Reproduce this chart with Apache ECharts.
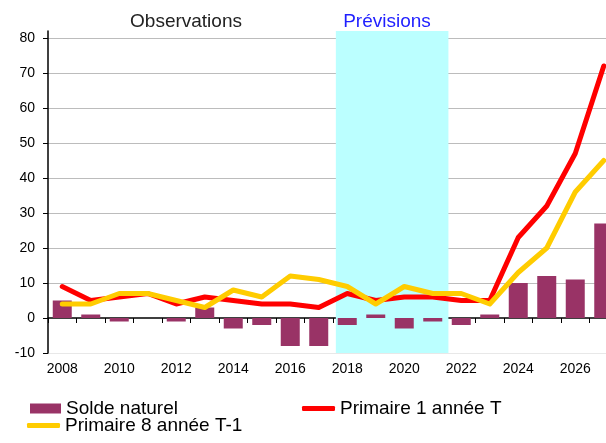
<!DOCTYPE html>
<html>
<head>
<meta charset="utf-8">
<title>Solde naturel et effectifs du primaire</title>
<script src="https://cdn.jsdelivr.net/npm/echarts@6/dist/echarts.min.js"></script>
<style>
  html, body { margin: 0; padding: 0; background: #fff; }
  #chart { width: 606px; height: 443px; }
</style>
</head>
<body>
<div id="chart"></div>
<script>
// années
var years = ['2008', '2009', '2010', '2011', '2012', '2013', '2014', '2015', '2016', '2017',
  '2018', '2019', '2020', '2021', '2022', '2023', '2024', '2025', '2026', '2027']
// séries
var soldeNaturel = [5, 1, -1, 0, -1, 3, -3, -2, -8, -8, -2, 1, -3, -1, -2, 1, 10, 12, 11, 27]
var primaire1 = [9, 5, 6, 7, 4, 6, 5, 4, 4, 3, 7, 5, 6, 6, 5, 5, 23, 32, 47, 72]
var primaire8 = [4, 4, 7, 7, 5, 3, 8, 6, 12, 11, 9, 4, 9, 7, 7, 4, 13, 20, 36, 45]
// axe des ordonnées
var yMin = -10
var yMax = 82
var yStep = 10
// zone des prévisions (en rang de catégorie)
var forecastFrom = 10.1
var forecastTo = 14.05

var font = '"Liberation Sans", Arial, sans-serif'

var chart = echarts.init(document.getElementById('chart'))

// couleurs des lignes de grille : -10 très clair, 0 masqué par l'axe, max masqué
var splitColors = ['#e8e8e8', 'rgba(0,0,0,0)']
for (var v = yMin + 2 * yStep; v < yMax; v += yStep) splitColors.push('#bcbcbc')
splitColors.push('rgba(0,0,0,0)')

chart.setOption({
  animation: false,
  textStyle: { fontFamily: font },
  // le graphique d'origine est coupé à droite : la grille dépasse du cadre
  grid: { left: 48, right: -12, top: 31, bottom: 90, outerBoundsMode: 'none', containLabel: false },
  graphic: [
    {
      type: 'text', x: 186, y: 22,
      style: { text: 'Observations', fill: '#222', font: '19px ' + font, align: 'center', verticalAlign: 'middle' }
    },
    {
      type: 'text', x: 387, y: 22,
      style: { text: 'Prévisions', fill: '#1f1fff', font: '19px ' + font, align: 'center', verticalAlign: 'middle' }
    }
  ],
  legend: [
    {
      data: ['Solde naturel'], left: 30, top: 399, padding: 0,
      itemWidth: 31, itemHeight: 10, icon: 'rect',
      textStyle: { fontSize: 19, color: '#000', fontFamily: font }
    },
    {
      data: ['Primaire 1 année T'], left: 302, top: 399, padding: 0,
      itemWidth: 33, itemHeight: 5, icon: 'roundRect',
      textStyle: { fontSize: 19, color: '#000', fontFamily: font }
    },
    {
      data: ['Primaire 8 année T-1'], left: 27, top: 416, padding: 0,
      itemWidth: 33, itemHeight: 5, icon: 'roundRect',
      textStyle: { fontSize: 19, color: '#000', fontFamily: font }
    }
  ],
  xAxis: [
    {
      // libellés en bas
      type: 'category', data: years, position: 'bottom',
      axisLine: { show: false, onZero: false },
      axisTick: { show: false },
      axisLabel: { interval: 1, fontSize: 14, color: '#000', margin: 9 },
      splitLine: { show: false }
    },
    {
      // axe sur le zéro avec graduations
      type: 'category', data: years, position: 'bottom',
      axisLine: { show: true, onZero: true, lineStyle: { color: '#000', width: 1.5 } },
      axisTick: { show: true, interval: 0, length: 5, lineStyle: { color: '#000' } },
      axisLabel: { show: false },
      splitLine: { show: false }
    },
    {
      // axe caché pour la zone des prévisions
      type: 'value', min: 0, max: years.length, show: false
    }
  ],
  yAxis: {
    type: 'value', min: yMin, max: yMax, interval: yStep,
    axisLine: { show: true, lineStyle: { color: '#000', width: 1.5 } },
    axisTick: { show: true, length: 5, lineStyle: { color: '#000' } },
    axisLabel: { fontSize: 14, color: '#000', margin: 13, showMaxLabel: false },
    splitLine: { show: true, lineStyle: { color: splitColors, width: 1.2 } }
  },
  series: [
    {
      name: 'zone',
      type: 'line',
      xAxisIndex: 2,
      data: [],
      z: -1,
      silent: true,
      markArea: {
        silent: true,
        itemStyle: { color: '#bbffff' },
        data: [[{ xAxis: forecastFrom, yAxis: yMin }, { xAxis: forecastTo, yAxis: yMax }]]
      }
    },
    {
      name: 'Solde naturel',
      type: 'bar',
      data: soldeNaturel,
      barWidth: 19,
      itemStyle: { color: '#993366' }
    },
    {
      name: 'Primaire 1 année T',
      type: 'line',
      data: primaire1,
      symbol: 'none',
      itemStyle: { color: '#ff0000' },
      lineStyle: { color: '#ff0000', width: 5, cap: 'round', join: 'round' }
    },
    {
      name: 'Primaire 8 année T-1',
      type: 'line',
      data: primaire8,
      symbol: 'none',
      itemStyle: { color: '#ffcc00' },
      lineStyle: { color: '#ffcc00', width: 5, cap: 'round', join: 'round' }
    }
  ]
})
</script>
</body>
</html>
